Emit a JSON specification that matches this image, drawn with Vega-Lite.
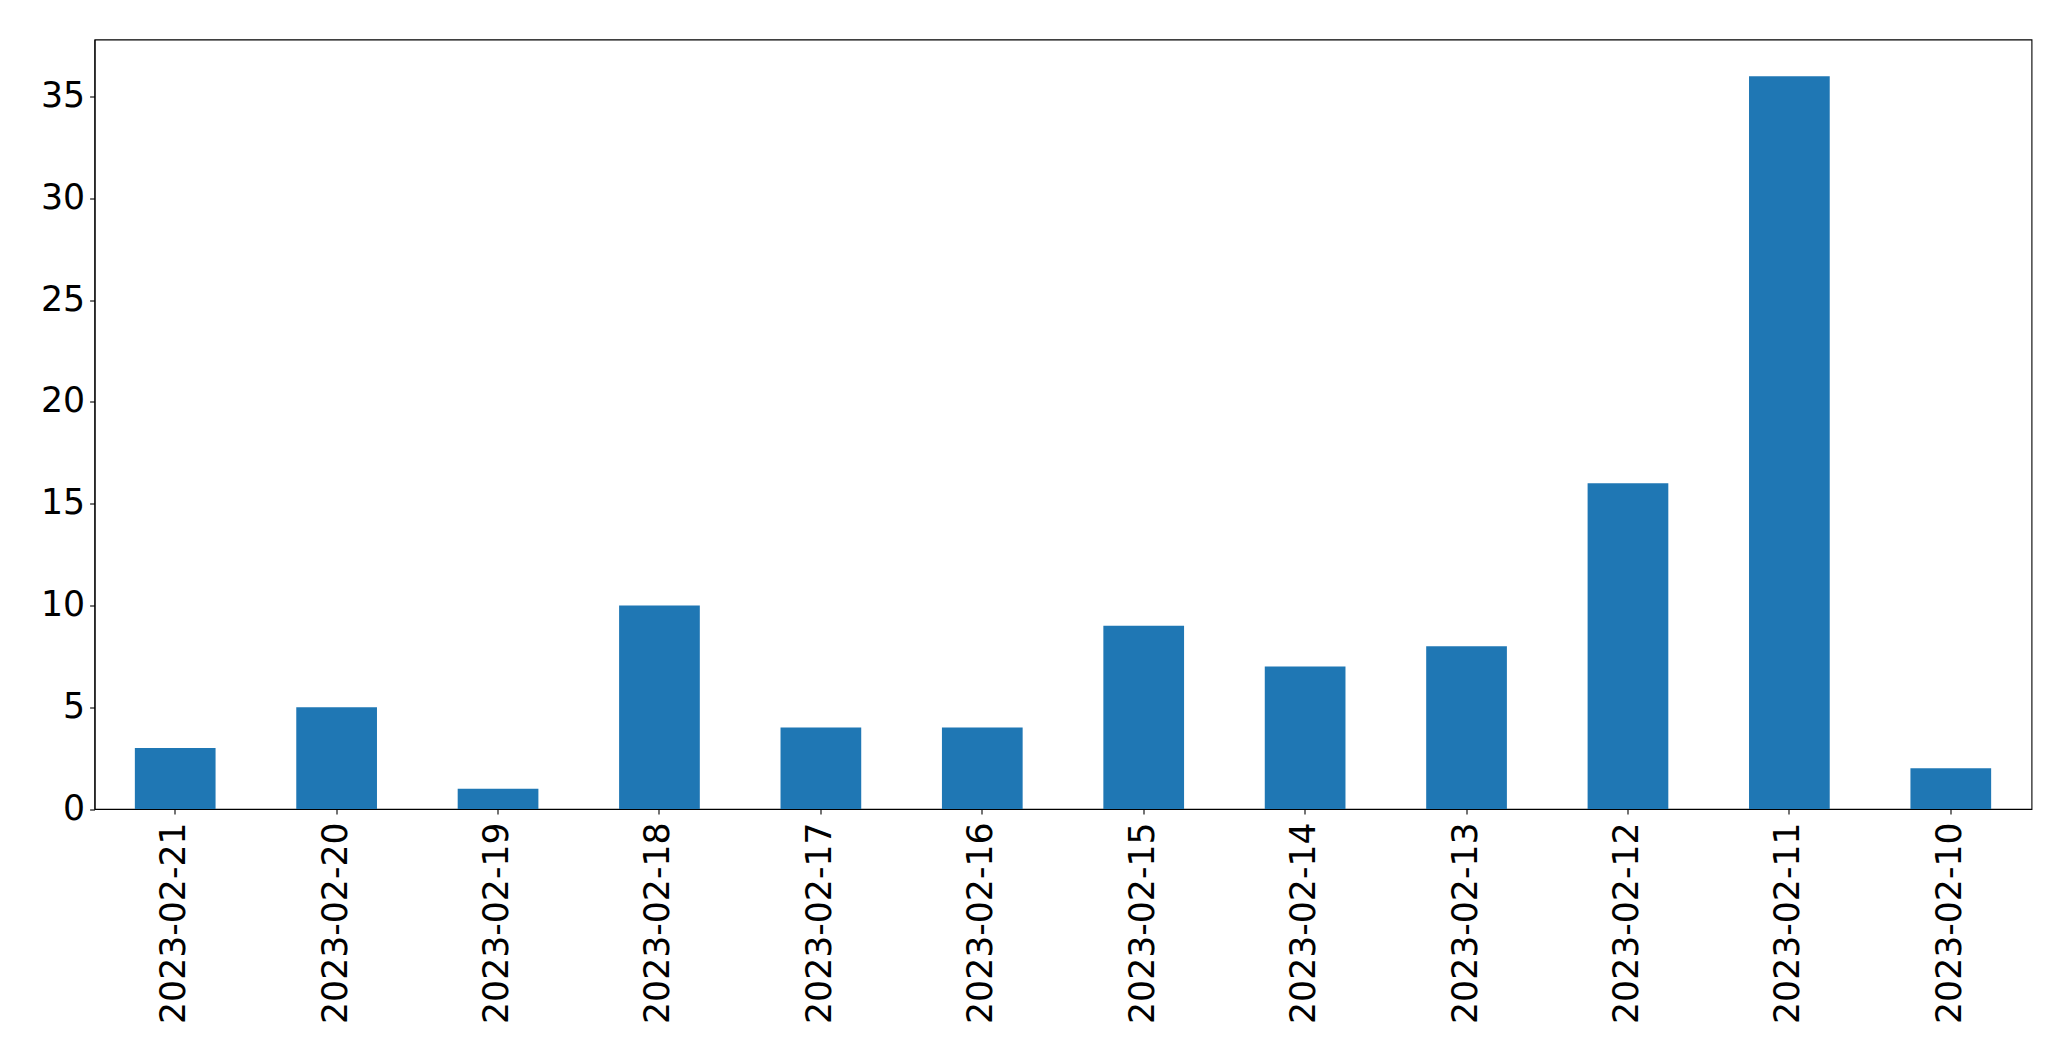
{
  "$schema": "https://vega.github.io/schema/vega-lite/v6.json",
  "autosize": "none",
  "width": 1937,
  "height": 769.5,
  "padding": {"left": 94.5, "top": 39.5, "right": 40, "bottom": 252},
  "background": "white",
  "config": {
    "view": {"stroke": "black", "strokeWidth": 1.1},
    "axis": {
      "labelFont": "DejaVu Sans",
      "labelFontSize": 34.7,
      "labelColor": "black",
      "labelLimit": 0,
      "tickColor": "black",
      "tickWidth": 1.1,
      "tickSize": 4.9,
      "domainColor": "black",
      "domainWidth": 1.1,
      "grid": false,
      "title": null
    }
  },
  "data": {
    "values": [
      {"date": "2023-02-21", "count": 3},
      {"date": "2023-02-20", "count": 5},
      {"date": "2023-02-19", "count": 1},
      {"date": "2023-02-18", "count": 10},
      {"date": "2023-02-17", "count": 4},
      {"date": "2023-02-16", "count": 4},
      {"date": "2023-02-15", "count": 9},
      {"date": "2023-02-14", "count": 7},
      {"date": "2023-02-13", "count": 8},
      {"date": "2023-02-12", "count": 16},
      {"date": "2023-02-11", "count": 36},
      {"date": "2023-02-10", "count": 2}
    ]
  },
  "mark": {"type": "bar", "color": "#1f77b4"},
  "encoding": {
    "x": {
      "field": "date",
      "type": "nominal",
      "sort": null,
      "scale": {"paddingInner": 0.5, "paddingOuter": 0.25},
      "axis": {"labelAngle": 270, "labelPadding": 8}
    },
    "y": {
      "field": "count",
      "type": "quantitative",
      "scale": {"domain": [0, 37.8], "nice": false, "zero": true},
      "axis": {"values": [0, 5, 10, 15, 20, 25, 30, 35], "labelPadding": 5}
    }
  }
}
